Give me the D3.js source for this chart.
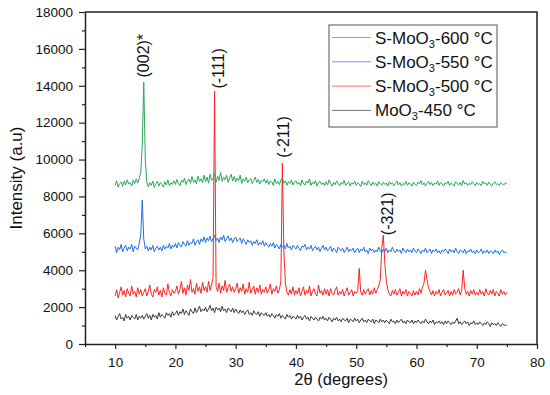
<!DOCTYPE html>
<html>
<head>
<meta charset="utf-8">
<script src="https://cdn.jsdelivr.net/npm/d3@7"></script>
<style>
  body { margin: 0; background: #fff; }
  text { font-family: "Liberation Sans", Arial, sans-serif; }
</style>
</head>
<body>
<svg id="chart"></svg>
<script>
// 2theta grid: 10 to 75 deg every 0.25 deg
var start = 10, step = 0.25;

// S-MoO3-600 C
var s600 = [
  8600,8850,8500,8700,8780,8550,8820,8620,8900,8680,8750,8560,8880,8700,8950,8720,8980,9300,10800,14200,
  10000,8800,8520,8750,8600,8830,8480,8700,8820,8560,8760,8640,8500,8800,8620,8900,8580,8740,8660,8850,
  8650,8920,8700,8580,8880,8760,9000,8640,8820,8950,8700,9080,8760,8900,8680,9100,8820,8960,8740,9150,
  8800,9050,8720,9200,8880,8950,9250,8780,9100,8860,9300,8820,9050,8900,9150,8760,9000,9200,8840,9080,
  8780,9000,8860,9150,8700,8950,8820,9050,8740,8900,8980,8700,8860,9050,8760,8920,8680,8880,8800,8960,
  8720,8900,8650,8850,8780,8600,8950,8700,8820,8640,8880,9000,8720,8840,8600,8800,8700,8900,8620,8780,
  8850,8660,8760,8580,8900,8700,8620,8840,8720,8950,8600,8780,8680,8860,8560,8760,8820,8640,8740,8580,
  8800,8620,8900,8700,8560,8760,8640,8840,8700,8580,8760,8660,8880,8600,8720,8800,8560,8740,8660,8820,
  8600,8760,8680,8540,8820,8640,8740,8600,8860,8700,8580,8780,8640,8720,8560,8800,8680,8600,8760,8650,
  8720,8560,8800,8660,8740,8580,8700,8840,8620,8760,8560,8700,8640,8820,8600,8740,8680,8560,8780,8660,
  8600,8780,8680,8860,8620,8740,8560,8700,8820,8640,8760,8580,8720,8660,8840,8600,8760,8680,8560,8740,
  8680,8820,8600,8740,8660,8560,8800,8700,8620,8760,8580,8860,8680,8740,8600,8720,8640,8800,8700,8580,
  8760,8640,8700,8580,8820,8680,8740,8600,8780,8660,8560,8720,8800,8640,8700,8600,8760,8680,8620,8740,
  8680
];

// S-MoO3-550 C
var s550 = [
  5300,4950,5250,5100,5400,5000,5200,5350,5050,5250,5150,5400,5000,5300,5200,5100,5450,5900,7800,5700,
  5150,5300,5050,5250,5100,5350,5000,5200,5300,5100,5250,5050,5350,5150,5300,5200,5450,5150,5350,5250,
  5450,5200,5500,5350,5250,5550,5400,5300,5600,5350,5500,5450,5700,5350,5550,5650,5400,5700,5550,5800,
  5500,5750,5600,5850,5550,5700,5900,5600,5750,5500,5800,5650,5900,5550,5700,5850,5600,5750,5500,5700,
  5800,5550,5650,5750,5450,5700,5550,5400,5650,5500,5600,5350,5550,5450,5650,5350,5500,5400,5600,5300,
  5500,5350,5250,5450,5300,5500,5200,5400,5300,5150,5400,5250,5350,5150,5450,5200,5300,5100,5350,5250,
  5150,5350,5200,5050,5300,5250,5400,5100,5250,5150,5350,5050,5200,5300,5100,5250,5000,5200,5350,5100,
  5250,5050,5150,5300,5000,5200,5100,4950,5250,5150,5050,5200,4950,5100,5250,5000,5150,5050,5200,4950,
  5100,5200,4950,5150,5050,5250,5000,5100,4900,5200,5050,5150,4950,5100,5000,5250,5050,4950,5150,5000,
  5200,4950,5100,5000,5250,5050,4950,5150,5000,5100,4900,5200,5050,4950,5150,5000,5100,4950,5200,5050,
  4950,5150,5050,4900,5100,5000,5200,4950,5050,5150,4900,5100,5000,5150,4950,5050,4900,5100,5000,5150,
  5050,4900,5150,5000,5100,4950,5200,5000,4900,5100,5050,4950,5150,4900,5050,5000,5150,4950,5050,4900,
  5100,4950,5000,5150,4900,5050,4950,5100,4900,5050,5000,4900,5100,4950,5050,4850,5000,5100,4950,5000,
  4950
];

// S-MoO3-500 C
var s500 = [
  2600,2950,2500,2800,3100,2650,2900,2550,3000,2750,2600,3150,2700,2850,2550,3050,2700,2950,2600,2800,
  3000,2600,2850,3200,2700,2550,2950,2800,3100,2650,2900,2550,3050,2750,2650,3250,2800,2600,2950,2750,
  2850,3150,2700,2950,3400,2750,3050,2650,3200,2900,3500,2800,3000,2700,3300,2850,3100,2750,3350,2900,
  3100,2800,3400,2900,3200,3600,13700,3100,2850,3300,2750,3150,2900,3450,2800,3050,3250,2850,3100,2800,
  3000,3300,2750,3050,2850,3250,2700,3000,2800,3350,2750,2950,3150,2700,3050,2800,3200,2700,2950,2800,
  3100,2750,2950,3250,2700,3000,2850,3150,2750,2950,3400,9800,5000,3300,2800,2650,2950,2700,3100,2650,
  2900,2700,3050,2600,2850,3100,2650,2900,2750,3150,2600,2850,3000,2700,2600,3200,2750,2900,2650,3000,
  2700,2950,2600,3000,2750,2650,2900,3100,2650,2850,2700,2950,2600,2850,3050,2650,2800,2950,2600,2850,
  2750,2900,4100,2800,2650,2950,2700,2850,3000,2650,2900,2700,3050,2750,2950,3150,3500,5200,5900,4400,
  3400,2950,2700,2600,2900,2700,2950,2650,2800,3000,2600,2850,2700,2950,2600,2850,2750,2600,2900,2650,
  2850,2650,3000,2750,3100,3300,4000,3500,3050,2850,2650,2900,2600,2850,2700,2950,2600,2800,2950,2650,
  2750,2900,2600,2850,2650,2950,2700,2800,3000,2650,2900,4000,3050,2700,2850,2600,2900,2700,2950,2650,
  2800,2650,2950,2700,2850,2600,3000,2750,2650,2900,2700,2950,2600,2850,2750,2600,2950,2700,2850,2650,
  2800
];

// MoO3-450 C
var m450 = [
  1550,1300,1500,1650,1350,1450,1250,1600,1400,1500,1300,1550,1450,1350,1600,1300,1500,1400,1550,1350,
  1500,1650,1400,1550,1300,1600,1450,1550,1350,1700,1450,1600,1500,1400,1700,1550,1650,1450,1750,1550,
  1650,1800,1550,1750,1650,1900,1600,1800,1700,1550,1900,1750,1650,1950,1700,1850,2050,1750,1900,1800,
  2000,1750,1900,2100,1800,1950,1700,2000,1850,1950,1750,2050,1800,1900,1700,1950,1850,1750,1950,1700,
  1900,1750,1650,1850,1700,1800,1600,1750,1850,1600,1700,1550,1800,1650,1600,1750,1500,1700,1600,1550,
  1700,1500,1600,1450,1650,1550,1400,1600,1500,1650,1400,1550,1450,1350,1600,1450,1550,1350,1500,1450,
  1350,1550,1400,1500,1300,1450,1550,1350,1450,1250,1500,1400,1300,1450,1350,1250,1450,1350,1500,1300,
  1400,1250,1450,1350,1200,1400,1300,1450,1250,1350,1200,1400,1300,1250,1400,1150,1350,1300,1200,1400,
  1250,1350,1150,1300,1400,1200,1300,1150,1350,1250,1200,1350,1100,1300,1250,1150,1350,1200,1300,1150,
  1300,1200,1100,1350,1200,1250,1100,1300,1150,1250,1350,1150,1250,1100,1300,1200,1150,1300,1100,1250,
  1150,1300,1200,1100,1250,1150,1350,1200,1100,1250,1150,1300,1050,1200,1150,1250,1100,1200,1050,1250,
  1100,1250,1150,1050,1200,1100,1250,1400,1100,1200,1050,1150,1250,1100,1200,1000,1150,1100,1250,1050,
  1150,1050,1200,1100,1000,1150,1050,1200,1100,950,1150,1050,1100,1000,1150,1050,950,1100,1050,1000,
  1050
];

var seriesNames = ["S-MoO3-600 °C", "S-MoO3-550 °C", "S-MoO3-500 °C", "MoO3-450 °C"];
var seriesColors = ["#2aa65c", "#1f6fe3", "#ff2222", "#3a3a3a"];
var seriesData = [s600, s550, s500, m450];

// peak annotations (label baseline position in 2theta, start height in counts)
var peakLabels = ["(002)*", "(-111)", "(-211)", "(-321)"];
var peakLabelX = [15.6, 28.1, 38.85, 56.1];
var peakLabelAt = [14450, 13850, 10100, 5900];

var xTicks = [10, 20, 30, 40, 50, 60, 70, 80];
var yTicks = [0, 2000, 4000, 6000, 8000, 10000, 12000, 14000, 16000, 18000];

var svg_width = 550, svg_height = 395;
var margin = { top: 12, right: 13, bottom: 51, left: 85 };
var width = svg_width - margin.left - margin.right;
var height = svg_height - margin.top - margin.bottom;

var svg = d3.select("#chart")
  .attr("width", svg_width)
  .attr("height", svg_height);

var g = svg.append("g")
  .attr("transform", "translate(" + margin.left + "," + margin.top + ")");

var x = d3.scaleLinear().domain([5, 80]).range([0, width]);
var y = d3.scaleLinear().domain([0, 18000]).range([height, 0]);

// minor ticks
var xMinor = d3.range(5, 81, 5).filter(function (d) { return d % 10 !== 0; });
var yMinor = d3.range(1000, 18000, 2000);

g.append("g")
  .attr("transform", "translate(0," + height + ")")
  .call(d3.axisBottom(x).tickValues(xMinor).tickSize(3).tickFormat(""))
  .call(function (a) { a.select(".domain").remove(); a.selectAll("line").attr("stroke-width", 1.2).attr("stroke", "#222"); });

g.append("g")
  .call(d3.axisLeft(y).tickValues(yMinor).tickSize(3).tickFormat(""))
  .call(function (a) { a.select(".domain").remove(); a.selectAll("line").attr("stroke-width", 1.2).attr("stroke", "#222"); });

var xAxis = g.append("g")
  .attr("transform", "translate(0," + height + ")")
  .call(d3.axisBottom(x).tickValues(xTicks).tickSize(5).tickPadding(8).tickSizeOuter(0));
xAxis.selectAll("text").attr("font-size", 13.5).attr("fill", "#111");

var yAxis = g.append("g")
  .call(d3.axisLeft(y).tickValues(yTicks).tickFormat(d3.format("d")).tickSize(6).tickPadding(6).tickSizeOuter(0));
yAxis.selectAll("text").attr("font-size", 13.5).attr("fill", "#111");

[xAxis, yAxis].forEach(function (a) {
  a.selectAll("line").attr("stroke-width", 1.2).attr("stroke", "#222");
  a.select(".domain").attr("stroke-width", 1.5).attr("stroke", "#222");
});

// top and right frame
g.append("path")
  .attr("d", "M0,0H" + width + "V" + height)
  .attr("fill", "none")
  .attr("stroke", "#222")
  .attr("stroke-width", 1.5);

var line = d3.line()
  .x(function (d, i) { return x(start + i * step); })
  .y(function (d) { return y(d); });

// draw back to front: black first, green last
for (var k = seriesData.length - 1; k >= 0; k--) {
  g.append("path")
    .datum(seriesData[k])
    .attr("fill", "none")
    .attr("stroke", seriesColors[k])
    .attr("stroke-width", 1)
    .attr("stroke-linejoin", "round")
    .attr("d", line);
}

// peak labels
peakLabels.forEach(function (t, i) {
  g.append("text")
    .attr("transform", "translate(" + x(peakLabelX[i]) + "," + y(peakLabelAt[i]) + ") rotate(-90)")
    .attr("font-size", 16)
    .attr("fill", "#111")
    .text(t);
});

// axis titles
svg.append("text")
  .attr("transform", "translate(22," + (margin.top + height / 2) + ") rotate(-90)")
  .attr("text-anchor", "middle")
  .attr("font-size", 17)
  .attr("fill", "#111")
  .text("Intensity (a.u)");

svg.append("text")
  .attr("x", margin.left + x(47.5))
  .attr("y", 385)
  .attr("text-anchor", "middle")
  .attr("font-size", 16.5)
  .attr("fill", "#111")
  .text("2θ (degrees)");

// legend
var legend = svg.append("g").attr("transform", "translate(329,25)");
legend.append("rect")
  .attr("width", 168)
  .attr("height", 102)
  .attr("fill", "#fff")
  .attr("stroke", "#555")
  .attr("stroke-width", 1);

seriesNames.forEach(function (name, i) {
  var row = legend.append("g").attr("transform", "translate(0," + (12.5 + i * 24.3) + ")");
  row.append("line")
    .attr("x1", 3).attr("x2", 42)
    .attr("stroke", seriesColors[i])
    .attr("stroke-opacity", 0.7)
    .attr("stroke-width", 1);
  var parts = name.split("3");
  var txt = row.append("text")
    .attr("x", 46)
    .attr("y", 6)
    .attr("font-size", 17)
    .attr("fill", "#111");
  txt.append("tspan").text(parts[0]);
  txt.append("tspan").attr("font-size", 11).attr("dy", 4).text("3");
  txt.append("tspan").attr("dy", -4).text(parts[1]);
});
</script>
</body>
</html>
